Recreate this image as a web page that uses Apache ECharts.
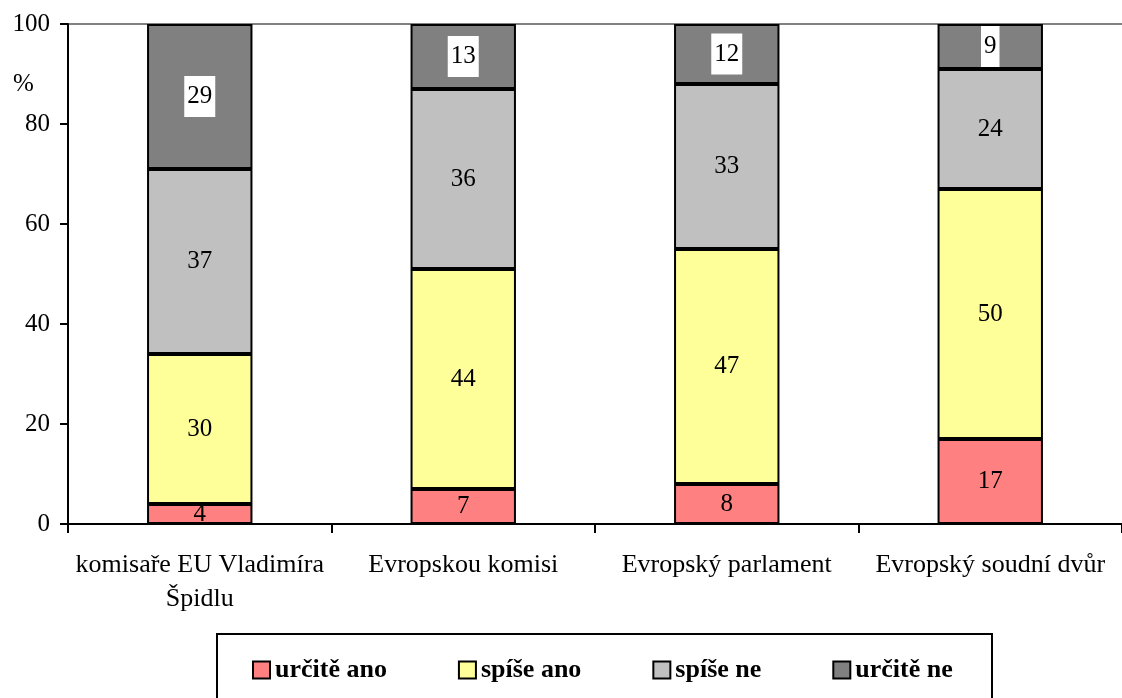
<!DOCTYPE html>
<html>
<head>
<meta charset="utf-8">
<script src="https://cdn.jsdelivr.net/npm/echarts@6/dist/echarts.min.js"></script>
<style>
html,body{margin:0;padding:0;background:#fff;}
#c{width:1122px;height:698px;}
</style>
</head>
<body>
<div id="c"></div>
<script>
const categories = ['komisaře EU Vladimíra\nŠpidlu', 'Evropskou komisi', 'Evropský parlament', 'Evropský soudní dvůr'];
const seriesNames = ['určitě ano', 'spíše ano', 'spíše ne', 'určitě ne'];
const urciteAno = [4, 7, 8, 17];
const spiseAno = [30, 44, 47, 50];
const spiseNe = [37, 36, 33, 24];
const urciteNe = [29, 13, 12, 9];
const yTicks = [0, 20, 40, 60, 80, 100];

const colors = ['#FF8080', '#FFFF99', '#C0C0C0', '#808080'];
const FONT = 'Liberation Serif';
const values = [urciteAno, spiseAno, spiseNe, urciteNe];

const chart = echarts.init(document.getElementById('c'), null, {renderer: 'canvas'});

const series = values.map((v, i) => ({
  name: seriesNames[i],
  type: 'bar',
  stack: 'total',
  barWidth: '40%',
  data: v,
  itemStyle: {color: colors[i], borderColor: '#000', borderWidth: 2},
  label: Object.assign({
    show: true,
    position: 'inside',
    color: '#000',
    fontFamily: FONT,
    fontSize: 25
  }, i === 3 ? {backgroundColor: '#fff', padding: [9, 3, 7, 3]} : {}),
  emphasis: {disabled: true}
}));

chart.setOption({
  animation: false,
  backgroundColor: '#fff',
  grid: {left: 68, top: 24, width: 1066, height: 500},
  xAxis: {
    type: 'category',
    data: categories,
    axisLine: {lineStyle: {color: '#000', width: 2}},
    axisTick: {show: true, length: 9, lineStyle: {color: '#000', width: 2}},
    axisLabel: {
      color: '#000', fontFamily: FONT, fontSize: 26, margin: 24,
      lineHeight: 34, interval: 0
    }
  },
  yAxis: {
    type: 'value',
    min: yTicks[0], max: yTicks[yTicks.length - 1], interval: 20,
    axisLine: {show: true, lineStyle: {color: '#000', width: 2}},
    axisTick: {show: true, length: 8, lineStyle: {color: '#000', width: 2}},
    axisLabel: {color: '#000', fontFamily: FONT, fontSize: 25, margin: 18},
    splitLine: {show: true, lineStyle: {color: ['rgba(0,0,0,0)','rgba(0,0,0,0)','rgba(0,0,0,0)','rgba(0,0,0,0)','rgba(0,0,0,0)','#808080'], width: 2}}
  },
  legend: {
    left: 247, top: 652,
    icon: 'rect', itemWidth: 17, itemHeight: 17, itemGap: 71,
    data: seriesNames,
    textStyle: {color: '#000', fontFamily: FONT, fontSize: 26, fontWeight: 'bold'},
    itemStyle: {borderColor: '#000', borderWidth: 2}
  },
  graphic: [
    {type: 'rect', shape: {x: 217, y: 634, width: 775, height: 90}, style: {fill: 'none', stroke: '#000', lineWidth: 2}, silent: true},
    {type: 'text', left: 13, top: 72, style: {text: '%', fill: '#000', fontFamily: FONT, fontSize: 25}, silent: true}
  ],
  series: series
});
</script>
</body>
</html>
